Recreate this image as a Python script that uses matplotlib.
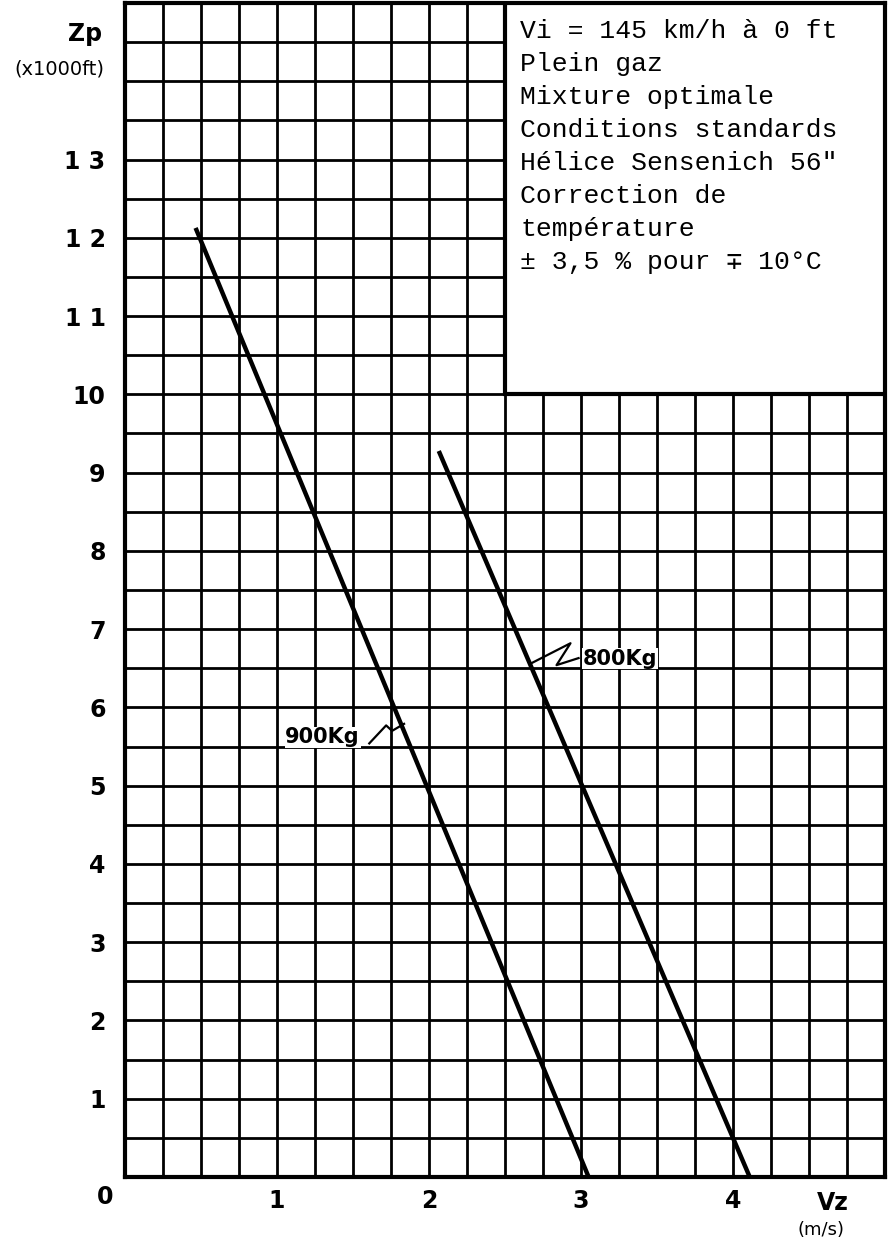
import numpy as np
from matplotlib import pyplot as plt
from matplotlib.patches import Rectangle

##### data
# climb rate Vz (m/s) vs pressure altitude Zp (x1000 ft)
vz_900 = [0.47, 3.05]
zp_900 = [12.1, 0.0]
vz_800 = [2.07, 4.11]
zp_800 = [9.25, 0.0]

x_ticks = [1, 2, 3, 4]
x_labels = ['1', '2', '3', '4']
y_ticks = list(range(1, 14))
y_labels = ['1', '2', '3', '4', '5', '6', '7', '8', '9', '10', '1 1', '1 2', '1 3']

info_lines = [
    'Vi = 145 km/h à 0 ft',
    'Plein gaz',
    'Mixture optimale',
    'Conditions standards',
    'Hélice Sensenich 56"',
    'Correction de',
    'température',
    '± 3,5 % pour ∓ 10°C',
]

# little zig-zag leaders from the weight labels to the lines
leader_900_x = [1.607, 1.718, 1.757, 1.836]
leader_900_y = [5.54, 5.77, 5.70, 5.79]
leader_800_x = [2.669, 2.931, 2.839, 2.984]
leader_800_y = [6.56, 6.82, 6.54, 6.63]


def main():
    fig = plt.figure(figsize=(8.88, 12.42), dpi=100)
    ax = fig.add_axes([125/888, 65/1242, 760/888, 1174/1242])
    ax.set_xlim(0, 5)
    ax.set_ylim(0, 15)

    # graph paper grid
    ax.set_xticks(np.arange(0, 5.01, 0.25), minor=True)
    ax.set_yticks(np.arange(0, 15.01, 0.5), minor=True)
    ax.set_xticks(x_ticks)
    ax.set_xticklabels(x_labels, weight='bold')
    ax.set_yticks(y_ticks)
    ax.set_yticklabels(y_labels, weight='bold')
    ax.grid(which='both', color='black', lw=2.0)
    ax.tick_params(which='both', length=0)
    ax.tick_params(axis='x', pad=9, labelsize=17)
    ax.tick_params(axis='y', pad=14, labelsize=17)
    for sp in ax.spines.values():
        sp.set_linewidth(3)
    ax.set_axisbelow(True)

    # info box top right, covers the grid
    ax.add_patch(Rectangle((2.5, 10), 2.5, 5, facecolor='white',
                           edgecolor='black', lw=3, zorder=3))
    for i, line in enumerate(info_lines):
        ax.text(2.6, 14.55 - i*0.421, line, fontsize=19,
                family=['Liberation Mono', 'DejaVu Sans Mono'],
                va='baseline', ha='left', zorder=4)

    ax.plot(vz_900, zp_900, color='black', lw=3.2, zorder=5)
    ax.plot(vz_800, zp_800, color='black', lw=3.2, zorder=5)

    ax.plot(leader_900_x, leader_900_y, color='black', lw=1.6, zorder=5)
    ax.plot(leader_800_x, leader_800_y, color='black', lw=1.6, zorder=5)
    ax.text(1.30, 5.62, '900Kg', fontsize=15, weight='bold', ha='center',
            va='center', zorder=6,
            bbox=dict(facecolor='white', edgecolor='none', pad=0.5))
    ax.text(3.01, 6.62, '800Kg', fontsize=15, weight='bold', ha='left',
            va='center', zorder=6,
            bbox=dict(facecolor='white', edgecolor='none', pad=0.5))

    # axis names
    ax.text(-0.262, 14.61, 'Zp', fontsize=17, weight='bold', ha='center',
            va='center', clip_on=False)
    ax.text(-0.43, 14.16, '(x1000ft)', fontsize=14, ha='center',
            va='center', clip_on=False)
    ax.text(-0.131, -0.255, '0', fontsize=17, weight='bold', ha='center',
            va='center', clip_on=False)
    ax.text(4.656, -0.33, 'Vz', fontsize=17, weight='bold', ha='center',
            va='center', clip_on=False)
    ax.text(4.577, -0.68, '(m/s)', fontsize=13, ha='center', va='center',
            clip_on=False)

    plt.savefig('out.png', dpi=100)


if __name__ == '__main__':
    main()
